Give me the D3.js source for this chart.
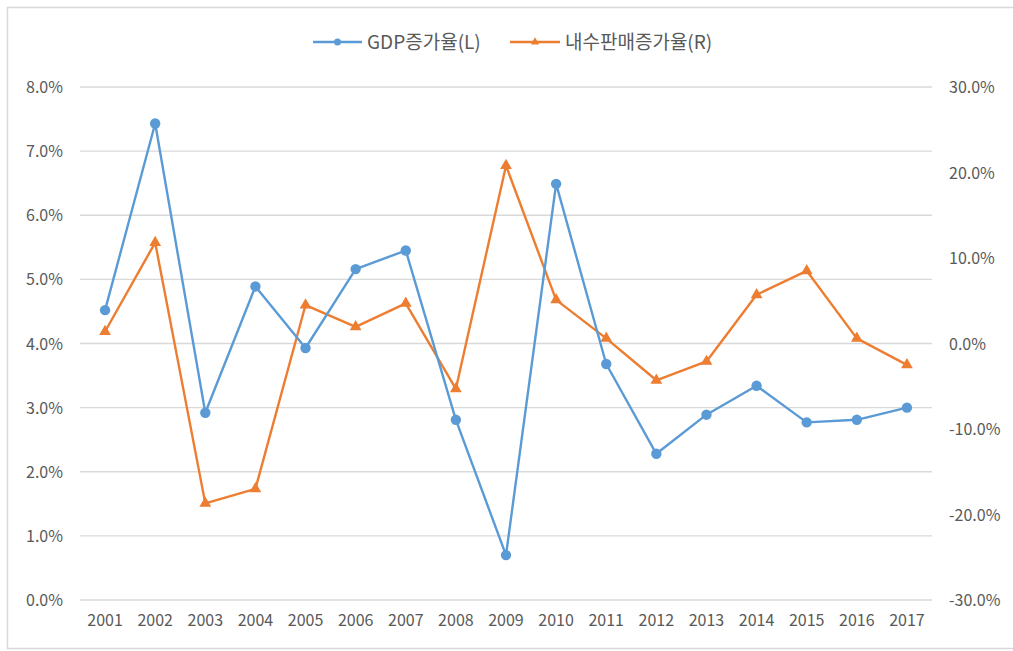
<!DOCTYPE html>
<html><head><meta charset="utf-8">
<script src="https://cdn.jsdelivr.net/npm/d3@7"></script>
<style>
html,body{margin:0;padding:0;background:#fff;}
svg{display:block;}
text{font-family:"Noto Sans CJK KR","Noto Sans",sans-serif;fill:#595959;}
</style></head>
<body><svg id="c" width="1013" height="651"></svg>
<script>
const years = ["2001","2002","2003","2004","2005","2006","2007","2008","2009","2010","2011","2012","2013","2014","2015","2016","2017"];
const gdpGrowth = [4.52,7.43,2.92,4.89,3.93,5.16,5.45,2.81,0.70,6.49,3.68,2.28,2.89,3.34,2.77,2.81,3.00];
const domesticSalesGrowth = [1.4,11.8,-18.7,-17.0,4.5,1.95,4.7,-5.3,20.8,5.1,0.6,-4.3,-2.1,5.7,8.5,0.6,-2.5];
const leftTicks = [0,1,2,3,4,5,6,7,8];
const rightTicks = [-30,-20,-10,0,10,20,30];
const seriesNames = ["GDP증가율(L)","내수판매증가율(R)"];

const svg = d3.select("#c");
const blue = "#5B9BD5", orange = "#ED7D31", grid = "#D9D9D9";
const plot = {left:80, right:932, top:87, bottom:600};

svg.append("rect").attr("x",7.5).attr("y",7.5).attr("width",1010).attr("height",641)
  .attr("fill","none").attr("stroke","#D9D9D9").attr("stroke-width",1.5);

const x = d3.scaleBand().domain(years).range([plot.left, plot.right]);
const yL = d3.scaleLinear().domain([0,8]).range([plot.bottom, plot.top]);
const yR = d3.scaleLinear().domain([-30,30]).range([plot.bottom, plot.top]);

// gridlines
svg.append("g").selectAll("line").data(leftTicks).join("line")
  .attr("x1",plot.left).attr("x2",plot.right)
  .attr("y1",d=>yL(d)).attr("y2",d=>yL(d))
  .attr("stroke",grid).attr("stroke-width",1.3);

// left axis
const gL = svg.append("g").attr("transform",`translate(${plot.left-17},0)`)
  .call(d3.axisLeft(yL).tickValues(leftTicks).tickFormat(d=>d.toFixed(1)+"%").tickSize(0).tickPadding(0));
gL.select(".domain").remove();
gL.selectAll("text").attr("font-size",16).style("fill","#595959").attr("dy","0.35em");

// right axis
const gR = svg.append("g").attr("transform",`translate(949,0)`)
  .call(d3.axisRight(yR).tickValues(rightTicks).tickFormat(d=>d.toFixed(1)+"%").tickSize(0).tickPadding(0));
gR.select(".domain").remove();
gR.selectAll("text").attr("font-size",16).style("fill","#595959").attr("dy","0.35em");

// x axis
const gX = svg.append("g").attr("transform",`translate(0,${plot.bottom+14})`)
  .call(d3.axisBottom(x).tickSize(0).tickPadding(0));
gX.select(".domain").remove();
gX.selectAll("text").attr("font-size",16).style("fill","#595959").attr("dy","0.75em");

const cx = d => x(d) + x.bandwidth()/2;

// domestic sales line (R)
const lineR = d3.line().x((d,i)=>cx(years[i])).y(d=>yR(d));
svg.append("path").datum(domesticSalesGrowth).attr("d",lineR)
  .attr("fill","none").attr("stroke",orange).attr("stroke-width",2.4).attr("stroke-linejoin","round");
const tri = d3.symbol().type(d3.symbolTriangle).size(60);
svg.append("g").selectAll("path").data(domesticSalesGrowth).join("path")
  .attr("d",tri).attr("transform",(d,i)=>`translate(${cx(years[i])},${yR(d)})`)
  .attr("fill",orange);

// GDP line (L)
const lineL = d3.line().x((d,i)=>cx(years[i])).y(d=>yL(d));
svg.append("path").datum(gdpGrowth).attr("d",lineL)
  .attr("fill","none").attr("stroke",blue).attr("stroke-width",2.4).attr("stroke-linejoin","round");
svg.append("g").selectAll("circle").data(gdpGrowth).join("circle")
  .attr("cx",(d,i)=>cx(years[i])).attr("cy",d=>yL(d)).attr("r",5.2).attr("fill",blue);

// legend
const legend = [
  {name:seriesNames[0], color:blue, x1:313, x2:362, tx:367, marker:"circle"},
  {name:seriesNames[1], color:orange, x1:510, x2:560, tx:565, marker:"tri"}
];
const ly = 42;
legend.forEach(l=>{
  svg.append("line").attr("x1",l.x1).attr("x2",l.x2).attr("y1",ly).attr("y2",ly)
    .attr("stroke",l.color).attr("stroke-width",2.4);
  const mx=(l.x1+l.x2)/2;
  if(l.marker==="circle") svg.append("circle").attr("cx",mx).attr("cy",ly).attr("r",3.5).attr("fill",l.color);
  else svg.append("path").attr("d",d3.symbol().type(d3.symbolTriangle).size(30)).attr("transform",`translate(${mx},${ly})`).attr("fill",l.color);
  svg.append("text").attr("x",l.tx).attr("y",ly).attr("dy","0.35em").attr("font-size",19).text(l.name);
});
</script></body></html>
